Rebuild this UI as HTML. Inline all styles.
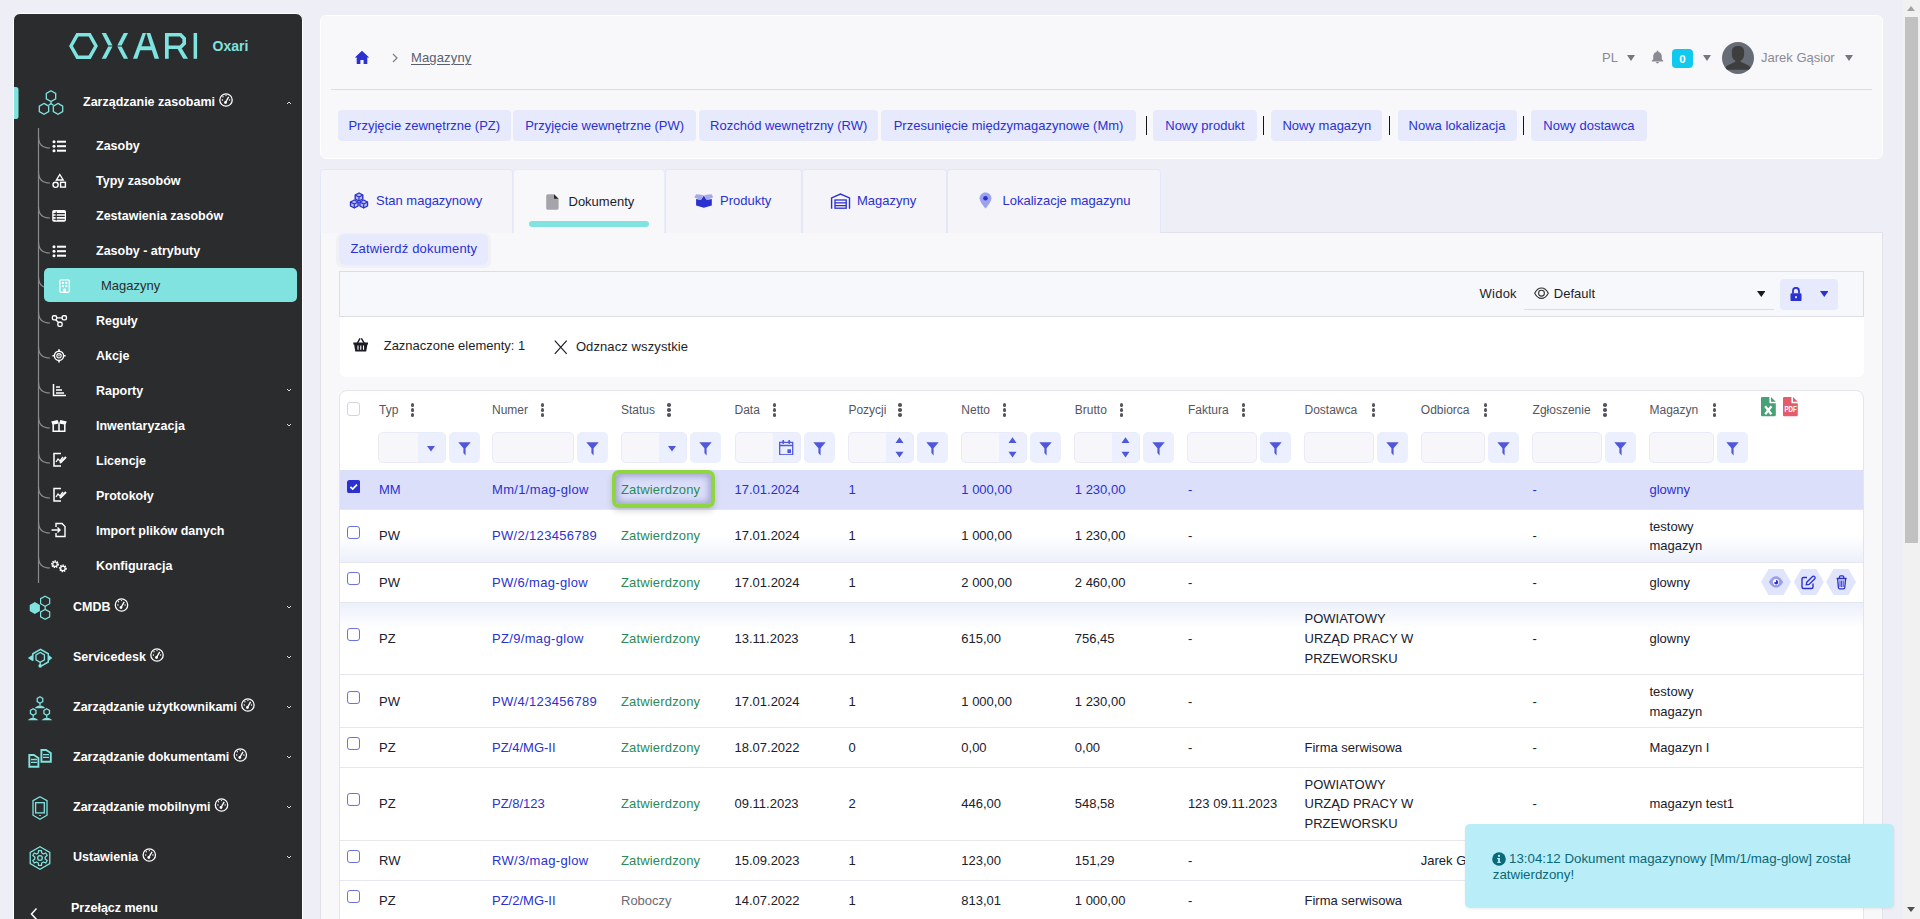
<!DOCTYPE html><html><head><meta charset="utf-8"><title>Magazyny</title><style>

*{box-sizing:border-box;margin:0;padding:0}
html,body{width:1920px;height:919px;overflow:hidden}
body{background:#eeeef7;font-family:"Liberation Sans", sans-serif;font-size:13px;color:#20202c;position:relative}
.a{position:absolute;white-space:nowrap;line-height:20px}
.sb{position:absolute;left:13px;top:13px;width:290px;height:920px;background:#2b2c2e;border:1px solid #fff;border-radius:7px;}
.st{position:absolute;color:#fff;font-weight:bold;font-size:12.5px;line-height:20px;white-space:nowrap}
.card{position:absolute;left:320px;top:15px;width:1563px;height:144px;background:#f8f8fb;border:1px solid #fff;border-radius:6px}
.btn{position:absolute;top:110px;height:31px;background:#e6eafc;border-radius:4px;color:#2b31d0;line-height:31px;text-align:center;white-space:nowrap}
.sep{position:absolute;top:116px;width:1.3px;height:19px;background:#151515}
.tab{position:absolute;top:169px;height:64px;background:#f4f4f9;border:1px solid #e3e7f9;border-bottom:none;border-radius:4px 4px 0 0}
.panel{position:absolute;left:320px;top:232px;width:1563px;height:700px;background:#f8f8fb;border:1px solid #e2e2ea}
.keb{position:absolute;width:4px;height:14px}
.keb i{position:absolute;left:0;width:3.6px;height:3.6px;border-radius:50%;background:#55555f}
.inp{position:absolute;top:432px;height:31px;background:#f6f6fb;border:1px solid #e9ebf8;border-radius:5px;overflow:hidden}
.inp b{position:absolute;top:0;bottom:0;right:0;width:27px;background:#eceffd}
.flt{position:absolute;top:432px;width:31px;height:31px;background:#eceffd;border-radius:5px}
.cb{position:absolute;width:13px;height:13px;border:1px solid #6c71dc;border-radius:3px;background:#fff}

</style></head><body>
<div class="sb"></div>
<svg style="position:absolute;left:0;top:0" width="320" height="919" viewBox="0 0 320 919"><polygon points="71,46 77.3,34.8 89.7,34.8 96,46 89.7,57.2 77.3,57.2" fill="none" stroke="#7fe3df" stroke-width="3.4"/><polygon points="101.7,33 106,33 112.5,45.4 108.2,45.4" fill="#7fe3df"/><polygon points="108.2,46.5 112.5,46.5 106,58.8 101.7,58.8" fill="#7fe3df"/><polygon points="123.8,33 128.1,33 121.6,45.4 117.3,45.4" fill="#7fe3df"/><polygon points="117.3,46.5 121.6,46.5 128.1,58.8 123.8,58.8" fill="#7fe3df"/><polygon points="142.6,33 146,33 137.3,58.8 133,58.8" fill="#7fe3df"/><polygon points="146.4,33 150.3,33 159.1,58.8 154.6,58.8" fill="#7fe3df"/><polygon points="139.8,46.2 152.2,46.2 153.5,50.2 138.4,50.2" fill="#7fe3df"/><rect x="165" y="33" width="3.7" height="25.8" fill="#7fe3df"/><polyline points="166.8,34.8 180.5,34.8 184.2,38.5 184.2,43.6 180.5,47.3 166.8,47.3" fill="none" stroke="#7fe3df" stroke-width="3.6"/><polygon points="177.3,48.5 181.8,48.5 188,58.8 183.3,58.8" fill="#7fe3df"/><rect x="193.6" y="33" width="3.5" height="25.8" fill="#7fe3df"/><path d="M14,87 h2 a2.5,2.5 0 0 1 2.5,2.5 v27 a2.5,2.5 0 0 1 -2.5,2.5 h-2 z" fill="#7fe3df"/><polygon points="51.00,90.80 55.68,93.50 55.68,98.90 51.00,101.60 46.32,98.90 46.32,93.50" fill="none" stroke="#7fe3df" stroke-width="1.3"/><polygon points="44.00,103.40 48.68,106.10 48.68,111.50 44.00,114.20 39.32,111.50 39.32,106.10" fill="none" stroke="#7fe3df" stroke-width="1.3"/><polygon points="58.00,103.40 62.68,106.10 62.68,111.50 58.00,114.20 53.32,111.50 53.32,106.10" fill="none" stroke="#7fe3df" stroke-width="1.3"/><path d="M51,101.6 V103.5 M51,103.5 L48.6,105.2 M51,103.5 L53.4,105.2" stroke="#7fe3df" stroke-width="1.3"/><line x1="38.5" y1="128" x2="38.5" y2="583" stroke="#8b8b8e" stroke-width="1.2"/><path d="M38.5,137 C38.5,144 42,148 50,148" fill="none" stroke="#8b8b8e" stroke-width="1.2"/><path d="M38.5,172 C38.5,179 42,183 50,183" fill="none" stroke="#8b8b8e" stroke-width="1.2"/><path d="M38.5,207 C38.5,214 42,218 50,218" fill="none" stroke="#8b8b8e" stroke-width="1.2"/><path d="M38.5,242 C38.5,249 42,253 50,253" fill="none" stroke="#8b8b8e" stroke-width="1.2"/><path d="M38.5,277 C38.5,284 42,288 50,288" fill="none" stroke="#8b8b8e" stroke-width="1.2"/><path d="M38.5,312 C38.5,319 42,323 50,323" fill="none" stroke="#8b8b8e" stroke-width="1.2"/><path d="M38.5,347 C38.5,354 42,358 50,358" fill="none" stroke="#8b8b8e" stroke-width="1.2"/><path d="M38.5,382 C38.5,389 42,393 50,393" fill="none" stroke="#8b8b8e" stroke-width="1.2"/><path d="M38.5,417 C38.5,424 42,428 50,428" fill="none" stroke="#8b8b8e" stroke-width="1.2"/><path d="M38.5,452 C38.5,459 42,463 50,463" fill="none" stroke="#8b8b8e" stroke-width="1.2"/><path d="M38.5,487 C38.5,494 42,498 50,498" fill="none" stroke="#8b8b8e" stroke-width="1.2"/><path d="M38.5,522 C38.5,529 42,533 50,533" fill="none" stroke="#8b8b8e" stroke-width="1.2"/><path d="M38.5,557 C38.5,564 42,568 50,568" fill="none" stroke="#8b8b8e" stroke-width="1.2"/><rect x="44" y="268" width="253" height="34" rx="5" fill="#80e3e0"/><circle cx="54" cy="141.7" r="1.5" fill="#ffffff"/><rect x="57" y="140.7" width="9" height="2" fill="#ffffff"/><circle cx="54" cy="146.2" r="1.5" fill="#ffffff"/><rect x="57" y="145.2" width="9" height="2" fill="#ffffff"/><circle cx="54" cy="150.7" r="1.5" fill="#ffffff"/><rect x="57" y="149.7" width="9" height="2" fill="#ffffff"/><circle cx="54" cy="246.7" r="1.5" fill="#ffffff"/><rect x="57" y="245.7" width="9" height="2" fill="#ffffff"/><circle cx="54" cy="251.2" r="1.5" fill="#ffffff"/><rect x="57" y="250.2" width="9" height="2" fill="#ffffff"/><circle cx="54" cy="255.7" r="1.5" fill="#ffffff"/><rect x="57" y="254.7" width="9" height="2" fill="#ffffff"/><polygon points="59.8,174.5 63.2,180 56.4,180" fill="none" stroke="#ffffff" stroke-width="1.4"/><circle cx="55.6" cy="184.8" r="2.6" fill="none" stroke="#ffffff" stroke-width="1.4"/><rect x="60.6" y="182.3" width="4.8" height="4.8" fill="none" stroke="#ffffff" stroke-width="1.4"/><rect x="52.2" y="210" width="13.8" height="11.8" rx="1.8" fill="#ffffff"/><path d="M53.5,213.6 H64.8 M53.5,216.4 H64.8 M53.5,219.2 H64.8 M56.2,211.5 V220.5" stroke="#2b2c2e" stroke-width="1.1"/><rect x="59.9" y="279.9" width="9.4" height="12.4" rx="1.4" fill="none" stroke="#fff" stroke-width="1.3"/><rect x="61.9" y="281.9" width="2" height="2" fill="#fff"/><rect x="65.3" y="281.9" width="2" height="2" fill="#fff"/><rect x="61.9" y="285.1" width="2" height="2" fill="#fff"/><rect x="65.3" y="285.1" width="2" height="2" fill="#fff"/><path d="M63.1,292.2 V289.8 C63.1,288.9 63.8,288.4 64.6,288.4 C65.4,288.4 66.1,288.9 66.1,289.8 V292.2 Z" fill="#fff"/><rect x="52.4" y="315.7" width="4.2" height="4.2" rx="1.3" fill="none" stroke="#ffffff" stroke-width="1.4"/><rect x="62.2" y="315.7" width="4.2" height="4.2" rx="1.3" fill="none" stroke="#ffffff" stroke-width="1.4"/><rect x="57.9" y="322.2" width="4.2" height="4.2" rx="1.3" fill="none" stroke="#ffffff" stroke-width="1.4"/><path d="M56.6,317.8 H62.2 M55.6,319.7 L58.6,322.5" stroke="#ffffff" stroke-width="1.3"/><circle cx="59" cy="355.8" r="4.6" fill="none" stroke="#ffffff" stroke-width="1.4"/><circle cx="59" cy="355.8" r="2.2" fill="none" stroke="#ffffff" stroke-width="1.1"/><circle cx="59" cy="355.8" r="0.8" fill="#ffffff"/><path d="M59,349.2 V351.4 M59,360.2 V362.4 M52.4,355.8 H54.6 M63.4,355.8 H65.6" stroke="#ffffff" stroke-width="1.6"/><path d="M53.5,384 V395.5 H66" fill="none" stroke="#ffffff" stroke-width="1.5"/><path d="M56,387 H60 M56,390 H62 M56,393 H64" stroke="#ffffff" stroke-width="1.5"/><path d="M51.2,421.6 L57.6,420 L59,423.6 L52.6,424.8 Z M66.8,421.6 L60.4,420 L59,423.6 L65.4,424.8 Z" fill="#ffffff"/><path d="M53.2,424.2 V431.2 H64.8 V424.2 M59,423.6 V431.2" fill="none" stroke="#ffffff" stroke-width="1.5"/><path d="M61,453.5 H54 V466 H61" fill="none" stroke="#ffffff" stroke-width="1.5"/><path d="M56,462 L58,459 L60,461 L63,457" fill="none" stroke="#ffffff" stroke-width="1.3"/><path d="M60,463 L66,457" stroke="#ffffff" stroke-width="2"/><path d="M61,488.5 H54 V501 H61" fill="none" stroke="#ffffff" stroke-width="1.5"/><path d="M56,497 L58,494 L60,496 L63,492" fill="none" stroke="#ffffff" stroke-width="1.3"/><path d="M60,498 L66,492" stroke="#ffffff" stroke-width="2"/><path d="M56,527 V523.5 H62 L65,526.5 V536.5 H56 V533" fill="none" stroke="#ffffff" stroke-width="1.4"/><path d="M51.5,530 H60 M57.5,527.5 L60,530 L57.5,532.5" fill="none" stroke="#ffffff" stroke-width="1.4"/><circle cx="55" cy="564.2" r="3.1" fill="none" stroke="#ffffff" stroke-width="1.6" stroke-dasharray="1.4 0.9"/><circle cx="55" cy="564.2" r="2.2" fill="none" stroke="#ffffff" stroke-width="1.2"/><circle cx="62.9" cy="568.4" r="3.1" fill="none" stroke="#ffffff" stroke-width="1.6" stroke-dasharray="1.4 0.9"/><circle cx="62.9" cy="568.4" r="2.2" fill="none" stroke="#ffffff" stroke-width="1.2"/><polygon points="34.80,602.10 39.91,605.05 39.91,610.95 34.80,613.90 29.69,610.95 29.69,605.05" fill="#7fe3df"/><polygon points="45.15,596.20 49.70,598.70 49.70,603.70 45.15,606.20 40.60,603.70 40.60,598.70" fill="none" stroke="#7fe3df" stroke-width="1.2"/><polygon points="45.15,609.40 49.70,611.90 49.70,616.90 45.15,619.40 40.60,616.90 40.60,611.90" fill="none" stroke="#7fe3df" stroke-width="1.2"/><path d="M45.15,606 V609.5" stroke="#7fe3df" stroke-width="1.2"/><path d="M32.8,660.8 V653.8 L40.5,649.3 L48.3,653.8 V662 L41.6,665.8" fill="none" stroke="#7fe3df" stroke-width="1.5"/><path d="M27.8,658 L32.8,654.8 V661.2 Z M52.3,658 L48.3,654.8 V661.2 Z" fill="#7fe3df"/><polygon points="40.20,652.40 44.44,654.85 44.44,659.75 40.20,662.20 35.96,659.75 35.96,654.85" fill="none" stroke="#7fe3df" stroke-width="1.3"/><path d="M40.2,662 V665" stroke="#7fe3df" stroke-width="1.3"/><circle cx="40.2" cy="665.9" r="1.8" fill="#7fe3df"/><polygon points="40.00,696.80 42.77,698.40 42.77,701.60 40.00,703.20 37.23,701.60 37.23,698.40" fill="none" stroke="#7fe3df" stroke-width="1.3"/><path d="M40,703.2 V705.4" stroke="#7fe3df" stroke-width="1.3"/><path d="M34.8,708.2 C36.8,704.6 43.1,704.6 45.1,708.2 Z" fill="#7fe3df"/><polygon points="33.20,708.80 35.97,710.40 35.97,713.60 33.20,715.20 30.43,713.60 30.43,710.40" fill="none" stroke="#7fe3df" stroke-width="1.3"/><path d="M33.2,715.2 V717.7" stroke="#7fe3df" stroke-width="1.3"/><path d="M27.9,720.3 C29.9,716.9000000000001 36.2,716.9000000000001 38.2,720.3 Z" fill="#7fe3df"/><polygon points="46.70,708.80 49.47,710.40 49.47,713.60 46.70,715.20 43.93,713.60 43.93,710.40" fill="none" stroke="#7fe3df" stroke-width="1.3"/><path d="M46.7,715.2 V717.7" stroke="#7fe3df" stroke-width="1.3"/><path d="M41.7,720.3 C43.7,716.9000000000001 50.1,716.9000000000001 52.1,720.3 Z" fill="#7fe3df"/><path d="M29.3,755 H33.8 L38.4,758 V766.7 H29.3 Z" fill="none" stroke="#7fe3df" stroke-width="1.9"/><path d="M31,759.5 H36.9 M31,762.4 H36.9" stroke="#7fe3df" stroke-width="1.3"/><path d="M41.4,750 H46 L50.8,753 V761.8 H41.4 Z" fill="none" stroke="#7fe3df" stroke-width="1.9"/><path d="M43,754.6 H49 M43,757.4 H49" stroke="#7fe3df" stroke-width="1.3"/><polygon points="40,796.8 47,800.7 47,815.2 40,819.2 33,815.2 33,800.7" fill="none" stroke="#7fe3df" stroke-width="1.3"/><rect x="35.6" y="802.7" width="8.7" height="10.2" fill="none" stroke="#7fe3df" stroke-width="1.3"/><ellipse cx="40" cy="815.5" rx="1.1" ry="0.6" fill="#7fe3df"/><polygon points="40.00,846.70 49.79,852.35 49.79,863.65 40.00,869.30 30.21,863.65 30.21,852.35" fill="none" stroke="#7fe3df" stroke-width="1.3"/><polygon points="38.27,852.99 38.55,850.54 41.45,850.54 41.73,852.99 43.48,854.00 45.74,853.01 47.19,855.53 45.20,856.99 45.20,859.01 47.19,860.47 45.74,862.99 43.48,862.00 41.73,863.01 41.45,865.46 38.55,865.46 38.27,863.01 36.52,862.00 34.26,862.99 32.81,860.47 34.80,859.01 34.80,856.99 32.81,855.53 34.26,853.01 36.52,854.00" fill="none" stroke="#7fe3df" stroke-width="1.3" stroke-linejoin="round"/><circle cx="40" cy="858" r="2.3" fill="none" stroke="#7fe3df" stroke-width="1.3"/><path d="M36.5,908.5 L31.5,914 L36.5,919.5" fill="none" stroke="#fff" stroke-width="1.5"/><circle cx="226.0" cy="100" r="6.2" fill="none" stroke="#fff" stroke-width="1.3"/><path d="M225.5,102.5 L228.7,96.8" stroke="#fff" stroke-width="1.4"/><circle cx="225.5" cy="102.5" r="1.4" fill="#fff"/><circle cx="223.0" cy="96.8" r="0.7" fill="#fff"/><circle cx="226.0" cy="95.6" r="0.7" fill="#fff"/><circle cx="222.4" cy="100" r="0.7" fill="#fff"/><circle cx="229.6" cy="100" r="0.7" fill="#fff"/><circle cx="121.5" cy="605" r="6.2" fill="none" stroke="#fff" stroke-width="1.3"/><path d="M121.0,607.5 L124.2,601.8" stroke="#fff" stroke-width="1.4"/><circle cx="121.0" cy="607.5" r="1.4" fill="#fff"/><circle cx="118.5" cy="601.8" r="0.7" fill="#fff"/><circle cx="121.5" cy="600.6" r="0.7" fill="#fff"/><circle cx="117.9" cy="605" r="0.7" fill="#fff"/><circle cx="125.1" cy="605" r="0.7" fill="#fff"/><circle cx="157.0" cy="655" r="6.2" fill="none" stroke="#fff" stroke-width="1.3"/><path d="M156.5,657.5 L159.7,651.8" stroke="#fff" stroke-width="1.4"/><circle cx="156.5" cy="657.5" r="1.4" fill="#fff"/><circle cx="154.0" cy="651.8" r="0.7" fill="#fff"/><circle cx="157.0" cy="650.6" r="0.7" fill="#fff"/><circle cx="153.4" cy="655" r="0.7" fill="#fff"/><circle cx="160.6" cy="655" r="0.7" fill="#fff"/><circle cx="247.9" cy="705" r="6.2" fill="none" stroke="#fff" stroke-width="1.3"/><path d="M247.4,707.5 L250.6,701.8" stroke="#fff" stroke-width="1.4"/><circle cx="247.4" cy="707.5" r="1.4" fill="#fff"/><circle cx="244.9" cy="701.8" r="0.7" fill="#fff"/><circle cx="247.9" cy="700.6" r="0.7" fill="#fff"/><circle cx="244.3" cy="705" r="0.7" fill="#fff"/><circle cx="251.5" cy="705" r="0.7" fill="#fff"/><circle cx="240.3" cy="755" r="6.2" fill="none" stroke="#fff" stroke-width="1.3"/><path d="M239.8,757.5 L243.0,751.8" stroke="#fff" stroke-width="1.4"/><circle cx="239.8" cy="757.5" r="1.4" fill="#fff"/><circle cx="237.3" cy="751.8" r="0.7" fill="#fff"/><circle cx="240.3" cy="750.6" r="0.7" fill="#fff"/><circle cx="236.7" cy="755" r="0.7" fill="#fff"/><circle cx="243.9" cy="755" r="0.7" fill="#fff"/><circle cx="221.5" cy="805" r="6.2" fill="none" stroke="#fff" stroke-width="1.3"/><path d="M221.0,807.5 L224.2,801.8" stroke="#fff" stroke-width="1.4"/><circle cx="221.0" cy="807.5" r="1.4" fill="#fff"/><circle cx="218.5" cy="801.8" r="0.7" fill="#fff"/><circle cx="221.5" cy="800.6" r="0.7" fill="#fff"/><circle cx="217.9" cy="805" r="0.7" fill="#fff"/><circle cx="225.1" cy="805" r="0.7" fill="#fff"/><circle cx="149.3" cy="855" r="6.2" fill="none" stroke="#fff" stroke-width="1.3"/><path d="M148.8,857.5 L152.0,851.8" stroke="#fff" stroke-width="1.4"/><circle cx="148.8" cy="857.5" r="1.4" fill="#fff"/><circle cx="146.3" cy="851.8" r="0.7" fill="#fff"/><circle cx="149.3" cy="850.6" r="0.7" fill="#fff"/><circle cx="145.7" cy="855" r="0.7" fill="#fff"/><circle cx="152.9" cy="855" r="0.7" fill="#fff"/><path d="M287,104 L289,102 L291,104" fill="none" stroke="#ddd" stroke-width="1"/><path d="M287,389 L289,391 L291,389" fill="none" stroke="#ddd" stroke-width="1"/><path d="M287,424 L289,426 L291,424" fill="none" stroke="#ddd" stroke-width="1"/><path d="M287,606 L289,608 L291,606" fill="none" stroke="#ddd" stroke-width="1"/><path d="M287,656 L289,658 L291,656" fill="none" stroke="#ddd" stroke-width="1"/><path d="M287,706 L289,708 L291,706" fill="none" stroke="#ddd" stroke-width="1"/><path d="M287,756 L289,758 L291,756" fill="none" stroke="#ddd" stroke-width="1"/><path d="M287,806 L289,808 L291,806" fill="none" stroke="#ddd" stroke-width="1"/><path d="M287,856 L289,858 L291,856" fill="none" stroke="#ddd" stroke-width="1"/></svg>
<div class="st" style="left:212.5px;top:36px;color:#7fe3df;font-size:14px">Oxari</div>
<div class="st" style="left:83px;top:92px;font-size:12.5px;color:#fff;">Zarządzanie zasobami</div>
<div class="st" style="left:96px;top:136px;font-size:12.5px;color:#fff;">Zasoby</div>
<div class="st" style="left:96px;top:171px;font-size:12.5px;color:#fff;">Typy zasobów</div>
<div class="st" style="left:96px;top:206px;font-size:12.5px;color:#fff;">Zestawienia zasobów</div>
<div class="st" style="left:96px;top:241px;font-size:12.5px;color:#fff;">Zasoby - atrybuty</div>
<div class="st" style="left:101px;top:276px;font-size:13px;color:#2b2c2e;font-weight:normal">Magazyny</div>
<div class="st" style="left:96px;top:311px;font-size:12.5px;color:#fff;">Reguły</div>
<div class="st" style="left:96px;top:346px;font-size:12.5px;color:#fff;">Akcje</div>
<div class="st" style="left:96px;top:381px;font-size:12.5px;color:#fff;">Raporty</div>
<div class="st" style="left:96px;top:416px;font-size:12.5px;color:#fff;">Inwentaryzacja</div>
<div class="st" style="left:96px;top:451px;font-size:12.5px;color:#fff;">Licencje</div>
<div class="st" style="left:96px;top:486px;font-size:12.5px;color:#fff;">Protokoły</div>
<div class="st" style="left:96px;top:521px;font-size:12.5px;color:#fff;">Import plików danych</div>
<div class="st" style="left:96px;top:556px;font-size:12.5px;color:#fff;">Konfiguracja</div>
<div class="st" style="left:73px;top:597px;font-size:12.5px;color:#fff;">CMDB</div>
<div class="st" style="left:73px;top:647px;font-size:12.5px;color:#fff;">Servicedesk</div>
<div class="st" style="left:73px;top:697px;font-size:12.5px;color:#fff;">Zarządzanie użytkownikami</div>
<div class="st" style="left:73px;top:747px;font-size:12.5px;color:#fff;">Zarządzanie dokumentami</div>
<div class="st" style="left:73px;top:797px;font-size:12.5px;color:#fff;">Zarządzanie mobilnymi</div>
<div class="st" style="left:73px;top:847px;font-size:12.5px;color:#fff;">Ustawienia</div>
<div class="st" style="left:71px;top:898px;font-size:12.5px;color:#fff;">Przełącz menu</div>
<div class="card"></div>
<svg class="a" style="left:354px;top:50px" width="16" height="15" viewBox="0 0 16 15"><path d="M8,0.8 L15.2,7.6 H13.3 V14 H9.6 V10 H6.4 V14 H2.7 V7.6 H0.8 Z" fill="#2b31d0"/></svg>
<svg class="a" style="left:391px;top:53px" width="8" height="10" viewBox="0 0 8 10"><path d="M2,1 L6,5 L2,9" fill="none" stroke="#808088" stroke-width="1.3"/></svg>
<div class="a" style="left:411px;top:48px;font-size:13px;color:#5a5f6e;text-decoration:underline;text-underline-offset:1.5px;letter-spacing:0.15px">Magazyny</div>
<div class="a" style="left:1602px;top:48px;font-size:13px;color:#8a8a96;">PL</div>
<svg class="a" style="left:1627px;top:55.3px" width="8" height="6" viewBox="0 0 8 6"><path d="M0,0 H8 L4.0,6 Z" fill="#77777f"/></svg>
<svg class="a" style="left:1651px;top:49.8px" width="13" height="14" viewBox="0 0 13 14"><path d="M6.5,0.5 C6,0.5 5.6,0.9 5.6,1.4 V1.9 C3.4,2.4 2.2,4.2 2.2,6.4 V9.3 L0.8,10.8 V11.4 H12.2 V10.8 L10.8,9.3 V6.4 C10.8,4.2 9.6,2.4 7.4,1.9 V1.4 C7.4,0.9 7,0.5 6.5,0.5 Z M5,12 H8 C8,12.9 7.3,13.4 6.5,13.4 C5.7,13.4 5,12.9 5,12 Z" fill="#8a8a92"/></svg>
<div class="a" style="left:1672px;top:49px;width:21px;height:19px;background:#0fc9ef;border-radius:4px;color:#fff;font-weight:bold;font-size:11.5px;line-height:20px;text-align:center">0</div>
<svg class="a" style="left:1702.8px;top:55.3px" width="8" height="6" viewBox="0 0 8 6"><path d="M0,0 H8 L4.0,6 Z" fill="#77777f"/></svg>
<svg class="a" style="left:1722px;top:42px" width="32" height="32" viewBox="0 0 32 32"><defs><clipPath id="cc"><circle cx="16" cy="16" r="16"/></clipPath></defs><circle cx="16" cy="16" r="16" fill="#676d76"/><g clip-path="url(#cc)"><path d="M16,3.9 C12.5,3.9 10,5.5 9.9,9 L9.9,13 C9.9,15.5 11.3,17.6 13.3,18.6 L13.3,19.8 L5.5,23.5 C4.3,24.1 3.5,25.3 3.3,26.5 L3,27.7 H29 L28.7,26.5 C28.5,25.3 27.7,24.1 26.5,23.5 L18.7,19.8 L18.7,18.6 C20.7,17.6 22.1,15.5 22.1,13 L22.1,9 C22,5.5 19.5,3.9 16,3.9 Z" fill="#3e3e3e"/></g></svg>
<div class="a" style="left:1761px;top:48px;font-size:13px;color:#8a8a96;">Jarek Gąsior</div>
<svg class="a" style="left:1845px;top:55.3px" width="8" height="6" viewBox="0 0 8 6"><path d="M0,0 H8 L4.0,6 Z" fill="#77777f"/></svg>
<div class="a" style="left:331px;top:88.5px;width:1541px;height:1px;background:#dcdce4"></div>
<div class="btn" style="left:338px;width:172.5px">Przyjęcie zewnętrzne (PZ)</div>
<div class="btn" style="left:513px;width:183.3px">Przyjęcie wewnętrzne (PW)</div>
<div class="btn" style="left:699px;width:179.4px">Rozchód wewnętrzny (RW)</div>
<div class="btn" style="left:881.3px;width:254.5px">Przesunięcie międzymagazynowe (Mm)</div>
<div class="btn" style="left:1153px;width:104.0px">Nowy produkt</div>
<div class="btn" style="left:1271.3px;width:111.2px">Nowy magazyn</div>
<div class="btn" style="left:1397.5px;width:119.0px">Nowa lokalizacja</div>
<div class="btn" style="left:1530.8px;width:116.2px">Nowy dostawca</div>
<div class="sep" style="left:1145.9px"></div>
<div class="sep" style="left:1262.9px"></div>
<div class="sep" style="left:1388.7px"></div>
<div class="sep" style="left:1522.9px"></div>
<div class="panel"></div>
<div class="tab" style="left:320px;width:192.5px"></div>
<div class="tab" style="left:664.5px;width:137.79999999999995px"></div>
<div class="tab" style="left:802.3px;width:144.4000000000001px"></div>
<div class="tab" style="left:946.7px;width:214.5999999999999px"></div>
<div class="a" style="left:513px;top:169px;width:152px;height:64px;background:#f8f8fb;border:1px solid #e8ebfa;border-bottom:none;border-radius:4px 4px 0 0"></div>
<div class="a" style="left:529px;top:221px;width:120px;height:6px;background:#80e3e0;border-radius:3px"></div>
<svg class="a" style="left:349px;top:192px" width="20" height="17" viewBox="0 0 20 17">
<g fill="#b9bdf0" stroke="#2b31d0" stroke-width="1.4" stroke-linejoin="round">
<path d="M6.2,3 L10,1 L13.8,3 V7 L10,9 L6.2,7 Z"/><path d="M1.5,10 L5.3,8 L9.1,10 V14 L5.3,16 L1.5,14 Z"/><path d="M10.9,10 L14.7,8 L18.5,10 V14 L14.7,16 L10.9,14 Z"/></g>
<path d="M6.2,3 L10,5 L13.8,3 M10,5 V9 M1.5,10 L5.3,12 L9.1,10 M5.3,12 V16 M10.9,10 L14.7,12 L18.5,10 M14.7,12 V16" fill="none" stroke="#2b31d0" stroke-width="1.2"/></svg>
<svg class="a" style="left:546px;top:194px" width="13" height="16" viewBox="0 0 13 16"><path d="M2,0.2 H8 L12.6,4.8 V14 C12.6,15 11.8,15.8 10.8,15.8 H2 C1,15.8 0.2,15 0.2,14 V2 C0.2,1 1,0.2 2,0.2 Z" fill="#a4a4aa"/><path d="M8,0.2 L12.6,4.8 H8 Z" fill="#2a2a30"/></svg>
<svg class="a" style="left:690px;top:190px" width="28" height="22" viewBox="690 190 28 22">
<path d="M694.3,197.6 L696.1,194.2 L703.3,195.1 L701,199.9 Z M713.1,197.6 L711.8,194.2 L704.3,195.1 L706.6,199.9 Z" fill="#a5a9ea"/>
<path d="M696.1,199.1 L701,199.9 L703.8,195.6 L706.6,199.9 L711.8,199.1 V205.6 L703.8,207.7 L696.1,205.6 Z" fill="#2b31d0"/></svg>
<svg class="a" style="left:828px;top:190px" width="25" height="22" viewBox="828 190 25 22">
<path d="M831.6,208.8 V197.9 L840.5,194 L849.5,197.9 V208.8" fill="none" stroke="#2b31d0" stroke-width="1.4"/>
<rect x="835" y="200" width="11.2" height="8.2" fill="none" stroke="#2b31d0" stroke-width="1.3"/>
<path d="M835,202.8 H846.2 M835,205.6 H846.2" stroke="#2b31d0" stroke-width="1.2"/></svg>
<svg class="a" style="left:979px;top:192px" width="13" height="17" viewBox="0 0 13 17">
<path d="M6.5,0.5 C3.2,0.5 0.6,3 0.6,6.3 C0.6,10.3 6.5,16.5 6.5,16.5 C6.5,16.5 12.4,10.3 12.4,6.3 C12.4,3 9.8,0.5 6.5,0.5 Z" fill="#9da2ee"/>
<circle cx="6.5" cy="6.3" r="2.3" fill="#2b31d0"/></svg>
<div class="a" style="left:376px;top:191px;font-size:13px;color:#2b31d0;">Stan magazynowy</div>
<div class="a" style="left:568.5px;top:192px;font-size:13px;color:#1c1c28;">Dokumenty</div>
<div class="a" style="left:720px;top:191px;font-size:13px;color:#2b31d0;">Produkty</div>
<div class="a" style="left:857px;top:191px;font-size:13px;color:#2b31d0;">Magazyny</div>
<div class="a" style="left:1002.5px;top:191px;font-size:13px;color:#2b31d0;">Lokalizacje magazynu</div>
<div class="a" style="left:336px;top:233px;width:154.5px;height:34.5px;background:#f0f0f5;border-radius:7px"></div>
<div class="a" style="left:339px;top:233.5px;width:149px;height:31px;background:#e6eafc;border-radius:6px"></div>
<div class="a" style="left:350.5px;top:239px;font-size:13px;color:#2b31d0;letter-spacing:0.17px">Zatwierdź dokumenty</div>
<div class="a" style="left:339px;top:271px;width:1525px;height:46px;background:#f7f8fb;border:1px solid #dcdde6"></div>
<div class="a" style="left:1479.5px;top:284px;font-size:13px;color:#1e1e28;letter-spacing:0.25px">Widok</div>
<div class="a" style="left:1524px;top:309px;width:250px;height:1px;background:#dcdce4"></div>
<svg class="a" style="left:1533.5px;top:286.5px" width="15" height="12.5" viewBox="0 0 15 12.5"><path d="M0.7,6.2 C2.5,2.8 4.8,1 7.5,1 C10.2,1 12.5,2.8 14.3,6.2 C12.5,9.6 10.2,11.4 7.5,11.4 C4.8,11.4 2.5,9.6 0.7,6.2 Z" fill="none" stroke="#333" stroke-width="1.1"/><circle cx="7.5" cy="6.2" r="2.9" fill="none" stroke="#333" stroke-width="1.1"/></svg>
<div class="a" style="left:1553.8px;top:284px;font-size:13px;color:#1e1e28;">Default</div>
<svg class="a" style="left:1756.8px;top:290.8px" width="8.5" height="6" viewBox="0 0 8.5 6"><path d="M0,0 H8.5 L4.25,6 Z" fill="#1a1a1a"/></svg>
<div class="a" style="left:1780.3px;top:279px;width:57.5px;height:30.5px;background:#e6eafc;border-radius:4px"></div>
<svg class="a" style="left:1790px;top:286.5px" width="12" height="14.5" viewBox="0 0 12 14.5"><path d="M3,6.5 V4.2 C3,1.9 4.3,0.8 6,0.8 C7.7,0.8 9,1.9 9,4.2 V6.5" fill="none" stroke="#2b31d0" stroke-width="1.8"/><rect x="0.5" y="6.2" width="11" height="8" rx="1.2" fill="#2b31d0"/><rect x="5.1" y="9.2" width="1.8" height="2" fill="#e6eafc"/></svg>
<svg class="a" style="left:1819.5px;top:290.8px" width="8.5" height="6" viewBox="0 0 8.5 6"><path d="M0,0 H8.5 L4.25,6 Z" fill="#2b31d0"/></svg>
<div class="a" style="left:340px;top:317px;width:1524px;height:59.5px;background:#fff;border-radius:0 0 5px 5px"></div>
<svg class="a" style="left:352.5px;top:338px" width="15.5" height="14" viewBox="0 0 15.5 14"><path d="M4.3,5.2 L6.8,0.8 M11.2,5.2 L8.7,0.8" stroke="#1c1c24" stroke-width="1.4" stroke-linecap="round"/><path d="M0.3,4.6 H15.2 V6.6 H14.4 L13.2,13.4 H2.3 L1.1,6.6 H0.3 Z" fill="#1c1c24"/><path d="M5,7.5 V11.8 M7.75,7.5 V11.8 M10.5,7.5 V11.8" stroke="#fff" stroke-width="1.1"/></svg>
<div class="a" style="left:383.7px;top:336px;font-size:13px;color:#1e1e28;">Zaznaczone elementy: 1</div>
<svg class="a" style="left:554px;top:340px" width="13.5" height="14.5" viewBox="0 0 13.5 14.5"><path d="M0.8,0.6 L12.7,13.9 M12.7,0.6 L0.8,13.9" stroke="#1e1e28" stroke-width="1.2"/></svg>
<div class="a" style="left:575.9px;top:337px;font-size:13px;color:#1e1e28;letter-spacing:0.1px">Odznacz wszystkie</div>
<div class="a" style="left:339px;top:390px;width:1525px;height:560px;background:#fff;border:1px solid #e4e4ec;border-radius:8px"></div>
<div class="a" style="left:347px;top:401.5px;width:13px;height:14.5px;border:1px solid #d3d4dc;border-radius:3px;background:#fff"></div>
<div class="a" style="left:379px;top:400px;font-size:12px;color:#55555f;">Typ</div>
<div class="keb" style="left:410.9px;top:403px"><i style="top:0"></i><i style="top:5px"></i><i style="top:10px"></i></div>
<div class="inp" style="left:378.3px;width:67.7px"><b></b><svg style="position:absolute;right:9.5px;top:12.5px" width="8" height="6" viewBox="0 0 8 6"><path d="M0,0 H8 L4,5.5 Z" fill="#4f58dc"/></svg></div>
<div class="flt" style="left:449.0px"><svg style="position:absolute;left:9px;top:9.5px" width="13" height="14" viewBox="0 0 13 14"><path d="M0.3,0.3 H12.7 L7.6,6.2 V13.5 L5.4,11 V6.2 Z" fill="#4f58dc"/></svg></div>
<div class="a" style="left:492px;top:400px;font-size:12px;color:#55555f;">Numer</div>
<div class="keb" style="left:540.7px;top:403px"><i style="top:0"></i><i style="top:5px"></i><i style="top:10px"></i></div>
<div class="inp" style="left:492px;width:82.0px"></div>
<div class="flt" style="left:577.0px"><svg style="position:absolute;left:9px;top:9.5px" width="13" height="14" viewBox="0 0 13 14"><path d="M0.3,0.3 H12.7 L7.6,6.2 V13.5 L5.4,11 V6.2 Z" fill="#4f58dc"/></svg></div>
<div class="a" style="left:621px;top:400px;font-size:12px;color:#55555f;">Status</div>
<div class="keb" style="left:667.3px;top:403px"><i style="top:0"></i><i style="top:5px"></i><i style="top:10px"></i></div>
<div class="inp" style="left:621.2px;width:65.8px"><b></b><svg style="position:absolute;right:9.5px;top:12.5px" width="8" height="6" viewBox="0 0 8 6"><path d="M0,0 H8 L4,5.5 Z" fill="#4f58dc"/></svg></div>
<div class="flt" style="left:690.0px"><svg style="position:absolute;left:9px;top:9.5px" width="13" height="14" viewBox="0 0 13 14"><path d="M0.3,0.3 H12.7 L7.6,6.2 V13.5 L5.4,11 V6.2 Z" fill="#4f58dc"/></svg></div>
<div class="a" style="left:734.5px;top:400px;font-size:12px;color:#55555f;">Data</div>
<div class="keb" style="left:772.5px;top:403px"><i style="top:0"></i><i style="top:5px"></i><i style="top:10px"></i></div>
<div class="inp" style="left:734.5px;width:66.5px"><b></b><svg style="position:absolute;right:6.5px;top:6.5px" width="14.5" height="15.5" viewBox="0 0 14.5 15.5"><rect x="0.7" y="2.4" width="13" height="12.4" fill="none" stroke="#4f58dc" stroke-width="1.3"/><path d="M0.7,5.6 H13.7" stroke="#4f58dc" stroke-width="1.5"/><path d="M4.2,0.9 V3 M10.2,0.9 V3" stroke="#4f58dc" stroke-width="1.9" stroke-linecap="round"/><rect x="8.4" y="9.3" width="3.6" height="3.8" fill="#4f58dc"/></svg></div>
<div class="flt" style="left:804.0px"><svg style="position:absolute;left:9px;top:9.5px" width="13" height="14" viewBox="0 0 13 14"><path d="M0.3,0.3 H12.7 L7.6,6.2 V13.5 L5.4,11 V6.2 Z" fill="#4f58dc"/></svg></div>
<div class="a" style="left:848.4px;top:400px;font-size:12px;color:#55555f;">Pozycji</div>
<div class="keb" style="left:898.2px;top:403px"><i style="top:0"></i><i style="top:5px"></i><i style="top:10px"></i></div>
<div class="inp" style="left:848.2px;width:65.8px"><b></b><svg style="position:absolute;right:9px;top:4px" width="9" height="21" viewBox="0 0 9 21"><path d="M0.5,6 L4.5,0.2 L8.5,6 Z M0.5,14.7 L4.5,20.4 L8.5,14.7 Z" fill="#4f58dc"/></svg></div>
<div class="flt" style="left:917.0px"><svg style="position:absolute;left:9px;top:9.5px" width="13" height="14" viewBox="0 0 13 14"><path d="M0.3,0.3 H12.7 L7.6,6.2 V13.5 L5.4,11 V6.2 Z" fill="#4f58dc"/></svg></div>
<div class="a" style="left:961.3px;top:400px;font-size:12px;color:#55555f;">Netto</div>
<div class="keb" style="left:1002.7px;top:403px"><i style="top:0"></i><i style="top:5px"></i><i style="top:10px"></i></div>
<div class="inp" style="left:961.3px;width:65.7px"><b></b><svg style="position:absolute;right:9px;top:4px" width="9" height="21" viewBox="0 0 9 21"><path d="M0.5,6 L4.5,0.2 L8.5,6 Z M0.5,14.7 L4.5,20.4 L8.5,14.7 Z" fill="#4f58dc"/></svg></div>
<div class="flt" style="left:1030.0px"><svg style="position:absolute;left:9px;top:9.5px" width="13" height="14" viewBox="0 0 13 14"><path d="M0.3,0.3 H12.7 L7.6,6.2 V13.5 L5.4,11 V6.2 Z" fill="#4f58dc"/></svg></div>
<div class="a" style="left:1074.8px;top:400px;font-size:12px;color:#55555f;">Brutto</div>
<div class="keb" style="left:1119.5px;top:403px"><i style="top:0"></i><i style="top:5px"></i><i style="top:10px"></i></div>
<div class="inp" style="left:1074px;width:66.0px"><b></b><svg style="position:absolute;right:9px;top:4px" width="9" height="21" viewBox="0 0 9 21"><path d="M0.5,6 L4.5,0.2 L8.5,6 Z M0.5,14.7 L4.5,20.4 L8.5,14.7 Z" fill="#4f58dc"/></svg></div>
<div class="flt" style="left:1143.0px"><svg style="position:absolute;left:9px;top:9.5px" width="13" height="14" viewBox="0 0 13 14"><path d="M0.3,0.3 H12.7 L7.6,6.2 V13.5 L5.4,11 V6.2 Z" fill="#4f58dc"/></svg></div>
<div class="a" style="left:1187.9px;top:400px;font-size:12px;color:#55555f;">Faktura</div>
<div class="keb" style="left:1241.7px;top:403px"><i style="top:0"></i><i style="top:5px"></i><i style="top:10px"></i></div>
<div class="inp" style="left:1187px;width:70.0px"></div>
<div class="flt" style="left:1260.0px"><svg style="position:absolute;left:9px;top:9.5px" width="13" height="14" viewBox="0 0 13 14"><path d="M0.3,0.3 H12.7 L7.6,6.2 V13.5 L5.4,11 V6.2 Z" fill="#4f58dc"/></svg></div>
<div class="a" style="left:1304.5px;top:400px;font-size:12px;color:#55555f;">Dostawca</div>
<div class="keb" style="left:1371.9px;top:403px"><i style="top:0"></i><i style="top:5px"></i><i style="top:10px"></i></div>
<div class="inp" style="left:1304.2px;width:69.6px"></div>
<div class="flt" style="left:1376.8px"><svg style="position:absolute;left:9px;top:9.5px" width="13" height="14" viewBox="0 0 13 14"><path d="M0.3,0.3 H12.7 L7.6,6.2 V13.5 L5.4,11 V6.2 Z" fill="#4f58dc"/></svg></div>
<div class="a" style="left:1420.8px;top:400px;font-size:12px;color:#55555f;">Odbiorca</div>
<div class="keb" style="left:1483.7px;top:403px"><i style="top:0"></i><i style="top:5px"></i><i style="top:10px"></i></div>
<div class="inp" style="left:1420.8px;width:64.2px"></div>
<div class="flt" style="left:1488.0px"><svg style="position:absolute;left:9px;top:9.5px" width="13" height="14" viewBox="0 0 13 14"><path d="M0.3,0.3 H12.7 L7.6,6.2 V13.5 L5.4,11 V6.2 Z" fill="#4f58dc"/></svg></div>
<div class="a" style="left:1532.6px;top:400px;font-size:12px;color:#55555f;">Zgłoszenie</div>
<div class="keb" style="left:1603.3px;top:403px"><i style="top:0"></i><i style="top:5px"></i><i style="top:10px"></i></div>
<div class="inp" style="left:1532px;width:70.0px"></div>
<div class="flt" style="left:1605.0px"><svg style="position:absolute;left:9px;top:9.5px" width="13" height="14" viewBox="0 0 13 14"><path d="M0.3,0.3 H12.7 L7.6,6.2 V13.5 L5.4,11 V6.2 Z" fill="#4f58dc"/></svg></div>
<div class="a" style="left:1649.5px;top:400px;font-size:12px;color:#55555f;">Magazyn</div>
<div class="keb" style="left:1712.7px;top:403px"><i style="top:0"></i><i style="top:5px"></i><i style="top:10px"></i></div>
<div class="inp" style="left:1649px;width:64.7px"></div>
<div class="flt" style="left:1716.7px"><svg style="position:absolute;left:9px;top:9.5px" width="13" height="14" viewBox="0 0 13 14"><path d="M0.3,0.3 H12.7 L7.6,6.2 V13.5 L5.4,11 V6.2 Z" fill="#4f58dc"/></svg></div>
<svg class="a" style="left:1758px;top:395px" width="44" height="24" viewBox="1758 395 44 24">
<path d="M1762.3,397 H1769.4 V402.2 C1769.4,402.8 1769.8,403.2 1770.4,403.2 H1775.8 V415 C1775.8,415.7 1775.2,416.3 1774.5,416.3 H1762.3 C1761.6,416.3 1761,415.7 1761,415 V398.3 C1761,397.6 1761.6,397 1762.3,397 Z" fill="#48a077"/>
<path d="M1771,397 L1775.8,401.7 H1771 Z" fill="#48a077"/>
<path d="M1765.2,406.2 L1771.4,414.2 M1771.4,406.2 L1765.2,414.2" stroke="#fff" stroke-width="2.3"/>
<path d="M1784.3,397 H1791.4 V402.2 C1791.4,402.8 1791.8,403.2 1792.4,403.2 H1797.8 V415 C1797.8,415.7 1797.2,416.3 1796.5,416.3 H1784.3 C1783.6,416.3 1783,415.7 1783,415 V398.3 C1783,397.6 1783.6,397 1784.3,397 Z" fill="#e45b6b"/>
<path d="M1793,397 L1797.8,401.7 H1793 Z" fill="#e45b6b"/>
<text x="1790.6" y="411.6" font-family="Liberation Sans" font-weight="bold" font-size="8.2" fill="#fff" text-anchor="middle" textLength="12.4" lengthAdjust="spacingAndGlyphs">PDF</text>
</svg>
<div class="a" style="left:340px;top:536px;width:1523px;height:26px;background:linear-gradient(to bottom,rgba(236,240,251,0),rgba(236,240,251,1))"></div>
<div class="a" style="left:340px;top:603px;width:1523px;height:26px;background:linear-gradient(to top,rgba(236,240,251,0),rgba(236,240,251,1))"></div>
<div class="a" style="left:340px;top:470px;width:1523px;height:39.2px;background:#dcdff9"></div>
<svg class="a" style="left:346.8px;top:480.0px" width="13.4" height="13.4" viewBox="0 0 13.4 13.4"><rect x="0" y="0" width="13.4" height="13.4" rx="2.6" fill="#2b31cf"/><path d="M3.4,6.9 L5.7,9.1 L10,4.6" fill="none" stroke="#fff" stroke-width="1.8"/></svg>
<div class="a" style="left:379px;top:480px;font-size:13px;color:#2b31d0;">MM</div>
<div class="a" style="left:492px;top:480px;font-size:13px;color:#2b31d0;letter-spacing:0.33px">Mm/1/mag-glow</div>
<div class="a" style="left:621px;top:480px;font-size:13px;color:#2b8a57;letter-spacing:0.16px">Zatwierdzony</div>
<div class="a" style="left:734.5px;top:480px;font-size:13px;color:#2b31d0;">17.01.2024</div>
<div class="a" style="left:848.4px;top:480px;font-size:13px;color:#2b31d0;">1</div>
<div class="a" style="left:961.3px;top:480px;font-size:13px;color:#2b31d0;">1 000,00</div>
<div class="a" style="left:1074.8px;top:480px;font-size:13px;color:#2b31d0;">1 230,00</div>
<div class="a" style="left:1187.9px;top:480px;font-size:13px;color:#2b31d0;">-</div>
<div class="a" style="left:1532.6px;top:480px;font-size:13px;color:#2b31d0;">-</div>
<div class="a" style="left:1649.5px;top:480px;font-size:13px;color:#2b31d0;">glowny</div>
<div class="a" style="left:340px;top:508.7px;width:1523px;height:1px;background:#e6e6ee"></div>
<div class="cb" style="left:347px;top:525.8px"></div>
<div class="a" style="left:379px;top:526px;font-size:13px;color:#20202c;">PW</div>
<div class="a" style="left:492px;top:526px;font-size:13px;color:#2b31d0;letter-spacing:0.33px">PW/2/123456789</div>
<div class="a" style="left:621px;top:526px;font-size:13px;color:#2b8a57;letter-spacing:0.16px">Zatwierdzony</div>
<div class="a" style="left:734.5px;top:526px;font-size:13px;color:#20202c;">17.01.2024</div>
<div class="a" style="left:848.4px;top:526px;font-size:13px;color:#20202c;">1</div>
<div class="a" style="left:961.3px;top:526px;font-size:13px;color:#20202c;">1 000,00</div>
<div class="a" style="left:1074.8px;top:526px;font-size:13px;color:#20202c;">1 230,00</div>
<div class="a" style="left:1187.9px;top:526px;font-size:13px;color:#20202c;">-</div>
<div class="a" style="left:1532.6px;top:526px;font-size:13px;color:#20202c;">-</div>
<div class="a" style="left:1649.5px;top:517px;font-size:13px;color:#20202c;">testowy</div>
<div class="a" style="left:1649.5px;top:536px;font-size:13px;color:#20202c;">magazyn</div>
<div class="a" style="left:340px;top:562.0px;width:1523px;height:1px;background:#e6e6ee"></div>
<div class="cb" style="left:347px;top:572.4px"></div>
<div class="a" style="left:379px;top:573px;font-size:13px;color:#20202c;">PW</div>
<div class="a" style="left:492px;top:573px;font-size:13px;color:#2b31d0;letter-spacing:0.33px">PW/6/mag-glow</div>
<div class="a" style="left:621px;top:573px;font-size:13px;color:#2b8a57;letter-spacing:0.16px">Zatwierdzony</div>
<div class="a" style="left:734.5px;top:573px;font-size:13px;color:#20202c;">17.01.2024</div>
<div class="a" style="left:848.4px;top:573px;font-size:13px;color:#20202c;">1</div>
<div class="a" style="left:961.3px;top:573px;font-size:13px;color:#20202c;">2 000,00</div>
<div class="a" style="left:1074.8px;top:573px;font-size:13px;color:#20202c;">2 460,00</div>
<div class="a" style="left:1187.9px;top:573px;font-size:13px;color:#20202c;">-</div>
<div class="a" style="left:1532.6px;top:573px;font-size:13px;color:#20202c;">-</div>
<div class="a" style="left:1649.5px;top:573px;font-size:13px;color:#20202c;">glowny</div>
<div class="a" style="left:340px;top:601.9px;width:1523px;height:1px;background:#e6e6ee"></div>
<div class="cb" style="left:347px;top:628.2px"></div>
<div class="a" style="left:379px;top:629px;font-size:13px;color:#20202c;">PZ</div>
<div class="a" style="left:492px;top:629px;font-size:13px;color:#2b31d0;letter-spacing:0.33px">PZ/9/mag-glow</div>
<div class="a" style="left:621px;top:629px;font-size:13px;color:#2b8a57;letter-spacing:0.16px">Zatwierdzony</div>
<div class="a" style="left:734.5px;top:629px;font-size:13px;color:#20202c;">13.11.2023</div>
<div class="a" style="left:848.4px;top:629px;font-size:13px;color:#20202c;">1</div>
<div class="a" style="left:961.3px;top:629px;font-size:13px;color:#20202c;">615,00</div>
<div class="a" style="left:1074.8px;top:629px;font-size:13px;color:#20202c;">756,45</div>
<div class="a" style="left:1187.9px;top:629px;font-size:13px;color:#20202c;">-</div>
<div class="a" style="left:1304.5px;top:609px;font-size:13px;color:#20202c;">POWIATOWY</div>
<div class="a" style="left:1304.5px;top:629px;font-size:13px;color:#20202c;">URZĄD PRACY W</div>
<div class="a" style="left:1304.5px;top:649px;font-size:13px;color:#20202c;">PRZEWORSKU</div>
<div class="a" style="left:1532.6px;top:629px;font-size:13px;color:#20202c;">-</div>
<div class="a" style="left:1649.5px;top:629px;font-size:13px;color:#20202c;">glowny</div>
<div class="a" style="left:340px;top:673.8px;width:1523px;height:1px;background:#e6e6ee"></div>
<div class="cb" style="left:347px;top:690.9px"></div>
<div class="a" style="left:379px;top:692px;font-size:13px;color:#20202c;">PW</div>
<div class="a" style="left:492px;top:692px;font-size:13px;color:#2b31d0;letter-spacing:0.33px">PW/4/123456789</div>
<div class="a" style="left:621px;top:692px;font-size:13px;color:#2b8a57;letter-spacing:0.16px">Zatwierdzony</div>
<div class="a" style="left:734.5px;top:692px;font-size:13px;color:#20202c;">17.01.2024</div>
<div class="a" style="left:848.4px;top:692px;font-size:13px;color:#20202c;">1</div>
<div class="a" style="left:961.3px;top:692px;font-size:13px;color:#20202c;">1 000,00</div>
<div class="a" style="left:1074.8px;top:692px;font-size:13px;color:#20202c;">1 230,00</div>
<div class="a" style="left:1187.9px;top:692px;font-size:13px;color:#20202c;">-</div>
<div class="a" style="left:1532.6px;top:692px;font-size:13px;color:#20202c;">-</div>
<div class="a" style="left:1649.5px;top:682px;font-size:13px;color:#20202c;">testowy</div>
<div class="a" style="left:1649.5px;top:702px;font-size:13px;color:#20202c;">magazyn</div>
<div class="a" style="left:340px;top:727.1px;width:1523px;height:1px;background:#e6e6ee"></div>
<div class="cb" style="left:347px;top:737.2px"></div>
<div class="a" style="left:379px;top:738px;font-size:13px;color:#20202c;">PZ</div>
<div class="a" style="left:492px;top:738px;font-size:13px;color:#2b31d0;">PZ/4/MG-II</div>
<div class="a" style="left:621px;top:738px;font-size:13px;color:#2b8a57;letter-spacing:0.16px">Zatwierdzony</div>
<div class="a" style="left:734.5px;top:738px;font-size:13px;color:#20202c;">18.07.2022</div>
<div class="a" style="left:848.4px;top:738px;font-size:13px;color:#20202c;">0</div>
<div class="a" style="left:961.3px;top:738px;font-size:13px;color:#20202c;">0,00</div>
<div class="a" style="left:1074.8px;top:738px;font-size:13px;color:#20202c;">0,00</div>
<div class="a" style="left:1187.9px;top:738px;font-size:13px;color:#20202c;">-</div>
<div class="a" style="left:1304.5px;top:738px;font-size:13px;color:#20202c;">Firma serwisowa</div>
<div class="a" style="left:1532.6px;top:738px;font-size:13px;color:#20202c;">-</div>
<div class="a" style="left:1649.5px;top:738px;font-size:13px;color:#20202c;">Magazyn I</div>
<div class="a" style="left:340px;top:766.5px;width:1523px;height:1px;background:#e6e6ee"></div>
<div class="cb" style="left:347px;top:793.4px"></div>
<div class="a" style="left:379px;top:794px;font-size:13px;color:#20202c;">PZ</div>
<div class="a" style="left:492px;top:794px;font-size:13px;color:#2b31d0;">PZ/8/123</div>
<div class="a" style="left:621px;top:794px;font-size:13px;color:#2b8a57;letter-spacing:0.16px">Zatwierdzony</div>
<div class="a" style="left:734.5px;top:794px;font-size:13px;color:#20202c;">09.11.2023</div>
<div class="a" style="left:848.4px;top:794px;font-size:13px;color:#20202c;">2</div>
<div class="a" style="left:961.3px;top:794px;font-size:13px;color:#20202c;">446,00</div>
<div class="a" style="left:1074.8px;top:794px;font-size:13px;color:#20202c;">548,58</div>
<div class="a" style="left:1187.9px;top:794px;font-size:13px;color:#20202c;">123 09.11.2023</div>
<div class="a" style="left:1304.5px;top:775px;font-size:13px;color:#20202c;">POWIATOWY</div>
<div class="a" style="left:1304.5px;top:794px;font-size:13px;color:#20202c;">URZĄD PRACY W</div>
<div class="a" style="left:1304.5px;top:814px;font-size:13px;color:#20202c;">PRZEWORSKU</div>
<div class="a" style="left:1532.6px;top:794px;font-size:13px;color:#20202c;">-</div>
<div class="a" style="left:1649.5px;top:794px;font-size:13px;color:#20202c;">magazyn test1</div>
<div class="a" style="left:340px;top:839.5px;width:1523px;height:1px;background:#e6e6ee"></div>
<div class="cb" style="left:347px;top:849.9px"></div>
<div class="a" style="left:379px;top:851px;font-size:13px;color:#20202c;">RW</div>
<div class="a" style="left:492px;top:851px;font-size:13px;color:#2b31d0;letter-spacing:0.33px">RW/3/mag-glow</div>
<div class="a" style="left:621px;top:851px;font-size:13px;color:#2b8a57;letter-spacing:0.16px">Zatwierdzony</div>
<div class="a" style="left:734.5px;top:851px;font-size:13px;color:#20202c;">15.09.2023</div>
<div class="a" style="left:848.4px;top:851px;font-size:13px;color:#20202c;">1</div>
<div class="a" style="left:961.3px;top:851px;font-size:13px;color:#20202c;">123,00</div>
<div class="a" style="left:1074.8px;top:851px;font-size:13px;color:#20202c;">151,29</div>
<div class="a" style="left:1187.9px;top:851px;font-size:13px;color:#20202c;">-</div>
<div class="a" style="left:1420.8px;top:851px;font-size:13px;color:#20202c;">Jarek Gąsior</div>
<div class="a" style="left:1532.6px;top:851px;font-size:13px;color:#20202c;">-</div>
<div class="a" style="left:1649.5px;top:851px;font-size:13px;color:#20202c;">glowny</div>
<div class="a" style="left:340px;top:879.5px;width:1523px;height:1px;background:#e6e6ee"></div>
<div class="cb" style="left:347px;top:890.4px"></div>
<div class="a" style="left:379px;top:891px;font-size:13px;color:#20202c;">PZ</div>
<div class="a" style="left:492px;top:891px;font-size:13px;color:#2b31d0;">PZ/2/MG-II</div>
<div class="a" style="left:621px;top:891px;font-size:13px;color:#6b6b76;">Roboczy</div>
<div class="a" style="left:734.5px;top:891px;font-size:13px;color:#20202c;">14.07.2022</div>
<div class="a" style="left:848.4px;top:891px;font-size:13px;color:#20202c;">1</div>
<div class="a" style="left:961.3px;top:891px;font-size:13px;color:#20202c;">813,01</div>
<div class="a" style="left:1074.8px;top:891px;font-size:13px;color:#20202c;">1 000,00</div>
<div class="a" style="left:1187.9px;top:891px;font-size:13px;color:#20202c;">-</div>
<div class="a" style="left:1304.5px;top:891px;font-size:13px;color:#20202c;">Firma serwisowa</div>
<div class="a" style="left:1532.6px;top:891px;font-size:13px;color:#20202c;">-</div>
<div class="a" style="left:1649.5px;top:891px;font-size:13px;color:#20202c;">glowny</div>
<svg class="a" style="left:1750px;top:560px" width="120" height="45" viewBox="1750 560 120 45"><polygon points="1761,582 1768.5,569 1783.5,569 1791,582 1783.5,595 1768.5,595" fill="#e1e5fb"/><polygon points="1793.8,582 1801.3,569 1816.3,569 1823.8,582 1816.3,595 1801.3,595" fill="#e1e5fb"/><polygon points="1826,582 1833.5,569 1848.5,569 1856,582 1848.5,595 1833.5,595" fill="#e1e5fb"/><path d="M1768.8,582 C1771,578.2 1773.3,576.3 1776,576.3 C1778.7,576.3 1781,578.2 1783.2,582 C1781,585.8 1778.7,587.7 1776,587.7 C1773.3,587.7 1771,585.8 1768.8,582 Z" fill="#9a9fea"/><circle cx="1776" cy="582" r="3.1" fill="#fff"/><path d="M1776,580 A2.2,2.2 0 1 1 1773.9,582.6 L1776,582 Z" fill="#2b31d0"/><path d="M1807,577.5 H1803.5 C1802.6,577.5 1802,578.1 1802,579 V587 C1802,587.9 1802.6,588.5 1803.5,588.5 H1811.5 C1812.4,588.5 1813,587.9 1813,587 V583.5" fill="none" stroke="#2b31d0" stroke-width="1.4"/><path d="M1806.2,584.8 L1806.8,582.2 L1812.3,576.7 C1813,576 1814,576 1814.6,576.7 C1815.3,577.3 1815.3,578.3 1814.6,579 L1809.1,584.5 Z" fill="none" stroke="#2b31d0" stroke-width="1.3"/><path d="M1836.6,578.5 H1846.6 M1839.5,578.5 V576.7 C1839.5,576.2 1839.9,575.8 1840.4,575.8 H1842.8 C1843.3,575.8 1843.7,576.2 1843.7,576.7 V578.5" fill="none" stroke="#2b31d0" stroke-width="1.3"/><path d="M1837.6,578.8 L1838.4,587.5 C1838.5,588.3 1839,588.8 1839.8,588.8 H1843.4 C1844.2,588.8 1844.7,588.3 1844.8,587.5 L1845.6,578.8" fill="none" stroke="#2b31d0" stroke-width="1.3"/><path d="M1840,580.5 V587 M1841.6,580.5 V587 M1843.2,580.5 V587" stroke="#2b31d0" stroke-width="0.9"/></svg>
<div class="a" style="left:611.6px;top:470.3px;width:103.7px;height:38.1px;border:4.5px solid #8fd53f;border-radius:7px;box-shadow:inset 0 0 7px 2px rgba(105,110,170,0.55),0 3px 6px rgba(0,0,0,0.16)"></div>
<div class="a" style="left:1465px;top:824px;width:428.5px;height:84px;background:#b9eef9;border-radius:5px;box-shadow:0 1px 3px rgba(0,0,0,0.08)"></div>
<svg class="a" style="left:1492px;top:852px" width="14" height="14" viewBox="0 0 14 14"><circle cx="7" cy="7" r="6.8" fill="#0b6a7a"/><rect x="6.1" y="6" width="1.8" height="4.8" fill="#b9eef9"/><rect x="5.2" y="6" width="2.6" height="1.2" fill="#b9eef9"/><rect x="5.2" y="9.8" width="3.6" height="1.1" fill="#b9eef9"/><circle cx="7" cy="3.9" r="1.1" fill="#b9eef9"/></svg>
<div class="a" style="left:1509px;top:851px;font-size:13.3px;color:#0b6877;line-height:16px">13:04:12 Dokument magazynowy [Mm/1/mag-glow] został</div>
<div class="a" style="left:1492.8px;top:867px;font-size:13.3px;color:#0b6877;line-height:16px">zatwierdzony!</div>
<div class="a" style="left:1903px;top:0;width:17px;height:919px;background:#f1f1f1"></div>
<div class="a" style="left:1905px;top:17px;width:13px;height:526px;background:#c1c1c1"></div>
<svg class="a" style="left:1907px;top:6px" width="8" height="5" viewBox="0 0 8 5"><path d="M0,5 L4,0 L8,5 Z" fill="#a3a3a3"/></svg>
<svg class="a" style="left:1907px;top:907px" width="8" height="5" viewBox="0 0 8 5"><path d="M0,0 L8,0 L4,5 Z" fill="#505050"/></svg>
</body></html>
